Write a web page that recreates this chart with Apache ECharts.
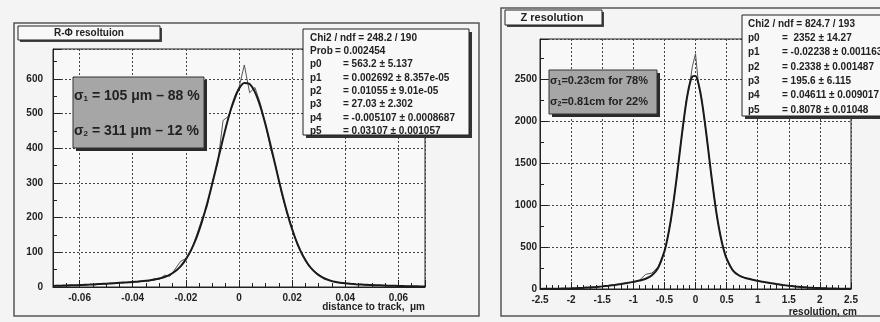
<!DOCTYPE html>
<html><head><meta charset="utf-8">
<script src="https://cdn.jsdelivr.net/npm/echarts@6/dist/echarts.min.js"></script>
<style>html,body{margin:0;padding:0;background:#f4f4f4}#c{width:880px;height:322px}</style>
</head><body><div id="c"></div>
<script>
// ---------- R-Phi resolution (left) ----------
const rphiX = [-0.070,-0.068,-0.066,-0.064,-0.062,-0.060,-0.058,-0.056,-0.054,-0.052,-0.050,-0.048,-0.046,-0.044,-0.042,-0.040,-0.038,-0.036,-0.034,-0.032,-0.030,-0.028,-0.026,-0.024,-0.022,-0.020,-0.018,-0.016,-0.014,-0.012,-0.010,-0.008,-0.006,-0.004,-0.002,0.000,0.002,0.004,0.006,0.008,0.010,0.012,0.014,0.016,0.018,0.020,0.022,0.024,0.026,0.028,0.030,0.032,0.034,0.036,0.038,0.040,0.042,0.044,0.046,0.048,0.050,0.052,0.054,0.056,0.058,0.060,0.062,0.064,0.066,0.068,0.070];
const rphiHist = [3,5,2,6,4,7,5,8,6,10,8,12,10,14,12,16,14,19,17,24,22,34,31,52,74,82,104,148,195,232,305,356,480,492,530,575,640,560,575,530,470,395,345,270,215,170,120,93,62,48,36,24,21,14,13,10,9,7,8,5,7,4,5,3,4,2,3,2,1,2,1];
const rphiFit = [3.1,3.5,4.0,4.5,5.1,5.7,6.4,7.1,7.9,8.7,9.5,10.4,11.4,12.4,13.4,14.6,15.8,17.2,18.9,21.1,24.3,28.8,35.5,45.4,59.6,79.7,107.0,142.5,186.8,239.7,299.6,363.6,427.9,487.4,536.9,571.8,588.3,584.8,561.7,521.1,467.3,405.1,339.8,275.9,217.3,166.3,124.2,90.8,65.6,47.1,34.1,25.2,19.2,15.2,12.4,10.5,9.1,8.0,7.1,6.3,5.6,5.0,4.4,3.9,3.5,3.0,2.6,2.3,2.0,1.7,1.5];

// ---------- Z resolution (right) ----------
const zX = [-2.5,-2.4,-2.3,-2.2,-2.1,-2.0,-1.9,-1.8,-1.7,-1.6,-1.5,-1.4,-1.3,-1.2,-1.1,-1.0,-0.9,-0.8,-0.7,-0.6,-0.5,-0.45,-0.4,-0.35,-0.3,-0.25,-0.2,-0.15,-0.1,-0.05,0,0.05,0.1,0.15,0.2,0.25,0.3,0.35,0.4,0.45,0.5,0.6,0.7,0.8,0.9,1.0,1.1,1.2,1.3,1.4,1.5,1.6,1.7,1.8,1.9,2.0,2.1,2.2,2.3,2.4,2.5];
const zHist = [2,1,4,3,7,6,12,13,20,23,33,37,52,57,75,80,105,175,190,265,440,610,790,1070,1320,1660,1930,2240,2400,2650,2800,2420,2260,1970,1700,1360,1110,830,650,470,370,215,165,128,116,94,86,68,60,46,40,29,25,17,15,9,8,5,4,2,2];
const zFit = [1.4,2.0,2.9,4.1,5.7,7.9,10.7,14.4,18.9,24.5,31.3,39.4,48.8,59.5,71.5,85.0,100.5,122.3,163.0,253.2,447.5,603.7,806.3,1054.7,1340.8,1647.3,1949.3,2216.4,2418.4,2529.9,2536.5,2437.5,2246.1,1986.2,1688.2,1382.7,1095.0,843.8,637.5,478.1,360.8,222.6,160.9,131.4,112.8,97.6,83.5,70.5,58.6,48.0,38.7,30.8,24.0,18.5,14.0,10.5,7.7,5.6,4.0,2.8,1.9];

// tick/label texts
const rphiTitle = 'R-Φ resoltuion';
const zTitle = 'Z resolution';
const rphiXName = 'distance to track,  μm';
const zXName = 'resolution, cm';
const rphiStats = [['Chi2 / ndf = 248.2 / 190',''],['Prob','= 0.002454'],['p0','= 563.2 ± 5.137'],['p1','= 0.002692 ± 8.357e-05'],['p2','= 0.01055 ± 9.01e-05'],['p3','= 27.03 ± 2.302'],['p4','= -0.005107 ± 0.0008687'],['p5','= 0.03107 ± 0.001057']];
const zStats = [['Chi2 / ndf = 824.7 / 193',''],['p0','=  2352 ± 14.27'],['p1','= -0.02238 ± 0.001163'],['p2','= 0.2338 ± 0.001487'],['p3','= 195.6 ± 6.115'],['p4','= 0.04611 ± 0.009017'],['p5','= 0.8078 ± 0.01048']];

const FONT = '"Liberation Sans", Arial, sans-serif';
const INK = '#222';
const chart = echarts.init(document.getElementById('c'), null, {renderer:'canvas'});
const plain = v => String(Math.round(v*1000)/1000);

function xAxisBase(extra){
  return Object.assign({
    type:'value',
    axisLine:{show:true,lineStyle:{color:INK,width:1}},
    axisTick:{show:true,inside:true,length:7,lineStyle:{color:INK}},
    minorTick:{show:true,splitNumber:4,length:4,lineStyle:{color:INK}},
    axisLabel:{color:INK,fontFamily:FONT,fontWeight:'bold',fontSize:10,margin:6,showMinLabel:false,showMaxLabel:false,formatter:plain},
    splitLine:{show:true,lineStyle:{color:'#444',type:[2,2],width:1}}
  }, extra);
}
function yAxisBase(extra){
  return Object.assign({
    type:'value',
    axisLine:{show:true,onZero:false,lineStyle:{color:INK,width:1}},
    axisTick:{show:true,inside:true,length:8,lineStyle:{color:INK}},
    minorTick:{show:true,splitNumber:2,length:4,lineStyle:{color:INK}},
    splitLine:{show:true,lineStyle:{color:'#444',type:[2,2],width:1}}
  }, extra);
}

const graphics = [];
// pad frames
graphics.push({type:'rect',z:1,shape:{x:14,y:23,width:465,height:293},style:{fill:'none',stroke:'#555',lineWidth:1.5}});
graphics.push({type:'rect',z:1,shape:{x:501,y:8,width:390,height:308},style:{fill:'none',stroke:'#555',lineWidth:1.5}});
// title boxes
graphics.push({type:'rect',z:50,shape:{x:20,y:28,width:142,height:14},style:{fill:'#444'}});
graphics.push({type:'rect',z:51,shape:{x:18,y:26,width:142,height:14},style:{fill:'#f8f8f8',stroke:INK,lineWidth:1}});
graphics.push({type:'text',z:52,x:89,y:33,style:{text:rphiTitle,fill:INK,font:'bold 10px '+FONT,align:'center',verticalAlign:'middle'}});
graphics.push({type:'rect',z:50,shape:{x:507,y:12,width:97,height:15},style:{fill:'#444'}});
graphics.push({type:'rect',z:51,shape:{x:505,y:10,width:97,height:15},style:{fill:'#f8f8f8',stroke:INK,lineWidth:1}});
graphics.push({type:'text',z:52,x:552,y:18,style:{text:zTitle,fill:INK,font:'bold 11px '+FONT,align:'center',verticalAlign:'middle'}});
// sigma boxes
graphics.push({type:'rect',z:50,shape:{x:76,y:80,width:131,height:71},style:{fill:'#2a2a2a'}});
graphics.push({type:'rect',z:51,shape:{x:73,y:77,width:131,height:71},style:{fill:'#a6a6a6',stroke:'#333',lineWidth:1}});
const sigRich = (big,sub)=>({s:{font:'bold '+big+'px '+FONT,fill:INK},b:{font:'bold '+sub+'px '+FONT,fill:INK,padding:[Math.round(big*0.45),0,0,0]}});
graphics.push({type:'text',z:52,x:74,y:96,style:{text:'{s|σ}{b|1}{s| = 105 μm – 88 %}',rich:sigRich(14,8),verticalAlign:'middle'}});
graphics.push({type:'text',z:52,x:74,y:131,style:{text:'{s|σ}{b|2}{s| = 311 μm – 12 %}',rich:sigRich(14,8),verticalAlign:'middle'}});
graphics.push({type:'rect',z:50,shape:{x:552,y:73,width:108,height:44},style:{fill:'#2a2a2a'}});
graphics.push({type:'rect',z:51,shape:{x:549,y:70,width:108,height:44},style:{fill:'#a6a6a6',stroke:'#333',lineWidth:1}});
graphics.push({type:'text',z:52,x:550,y:81,style:{text:'{s|σ}{b|1}{s|=0.23cm for 78%}',rich:sigRich(11,7),verticalAlign:'middle'}});
graphics.push({type:'text',z:52,x:550,y:102,style:{text:'{s|σ}{b|2}{s|=0.81cm for 22%}',rich:sigRich(11,7),verticalAlign:'middle'}});
// stats boxes
graphics.push({type:'rect',z:50,shape:{x:306,y:32,width:166,height:106},style:{fill:'#333'}});
graphics.push({type:'rect',z:51,shape:{x:303,y:29,width:166,height:106},style:{fill:'#f8f8f8',stroke:INK,lineWidth:1}});
rphiStats.forEach((r,i)=>{
  const y = 38 + i*13.3;
  graphics.push({type:'text',z:52,x:310,y:y,style:{text:r[0],fill:INK,font:'bold 10px '+FONT,verticalAlign:'middle'}});
  if(r[1]) graphics.push({type:'text',z:52,x:i===1?335:343,y:y,style:{text:r[1],fill:INK,font:'bold 10px '+FONT,verticalAlign:'middle'}});
});
graphics.push({type:'rect',z:50,shape:{x:745,y:18,width:150,height:101},style:{fill:'#333'}});
graphics.push({type:'rect',z:51,shape:{x:742,y:15,width:150,height:101},style:{fill:'#f8f8f8',stroke:INK,lineWidth:1}});
zStats.forEach((r,i)=>{
  const y = 24 + i*14.3;
  graphics.push({type:'text',z:52,x:748,y:y,style:{text:r[0],fill:INK,font:'bold 10px '+FONT,verticalAlign:'middle'}});
  if(r[1]) graphics.push({type:'text',z:52,x:782,y:y,style:{text:r[1],fill:INK,font:'bold 10px '+FONT,verticalAlign:'middle'}});
});
// axis titles
graphics.push({type:'text',z:52,x:425,y:307,style:{text:rphiXName,fill:INK,font:'bold 10px '+FONT,align:'right',verticalAlign:'middle'}});
graphics.push({type:'text',z:52,x:857,y:312,style:{text:zXName,fill:INK,font:'bold 10px '+FONT,align:'right',verticalAlign:'middle'}});

chart.setOption({
  backgroundColor:'#f4f4f4',
  animation:false,
  grid:[
    {left:53,top:49,width:372,height:238,show:true,backgroundColor:'#f8f8f8',borderColor:INK,borderWidth:1},
    {left:540,top:39,width:311,height:250,show:true,backgroundColor:'#f8f8f8',borderColor:INK,borderWidth:1}
  ],
  xAxis:[
    xAxisBase({gridIndex:0,min:-0.07,max:0.07,splitNumber:7}),
    xAxisBase({gridIndex:1,min:-2.5,max:2.5,interval:0.5,minorTick:{show:true,splitNumber:5,length:4,lineStyle:{color:INK}},
      axisLabel:{color:INK,fontFamily:FONT,fontWeight:'bold',fontSize:10,margin:6,formatter:plain}})
  ],
  yAxis:[
    yAxisBase({gridIndex:0,min:0,max:686,interval:100,axisLabel:{color:INK,fontFamily:FONT,fontWeight:'bold',fontSize:10,margin:10,showMaxLabel:false,formatter:plain}}),
    yAxisBase({gridIndex:1,min:0,max:2976,interval:500,axisLabel:{color:INK,fontFamily:FONT,fontWeight:'bold',fontSize:10,margin:3,showMaxLabel:false,formatter:plain}})
  ],
  series:[
    {type:'line',xAxisIndex:0,yAxisIndex:0,symbol:'none',data:rphiX.map((x,i)=>[x,rphiHist[i]]),lineStyle:{color:'#555',width:1},z:3},
    {type:'line',xAxisIndex:0,yAxisIndex:0,smooth:0.3,symbol:'none',data:rphiX.map((x,i)=>[x,rphiFit[i]]),lineStyle:{color:'#1a1a1a',width:2},z:4},
    {type:'line',xAxisIndex:1,yAxisIndex:1,symbol:'none',data:zX.map((x,i)=>[x,zHist[i]]),lineStyle:{color:'#555',width:1},z:3},
    {type:'line',xAxisIndex:1,yAxisIndex:1,smooth:0.3,symbol:'none',data:zX.map((x,i)=>[x,zFit[i]]),lineStyle:{color:'#1a1a1a',width:2},z:4}
  ],
  graphic:graphics
});
</script></body></html>
